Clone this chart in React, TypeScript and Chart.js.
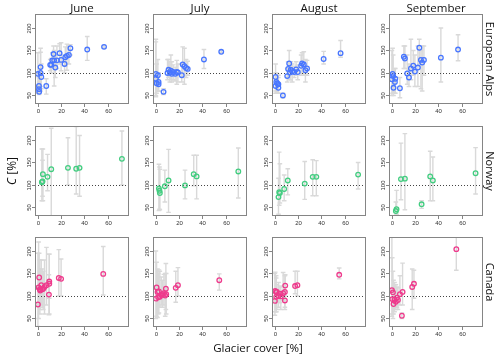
import React, { useEffect, useRef } from "react";
import { Chart, registerables } from "chart.js";
Chart.register(...registerables);

// ---- labels / ticks ----
const months = ["June", "July", "August", "September"];
const regions = ["European Alps", "Norway", "Canada"];
const regionColors = ["#4876FF", "#43CD80", "#EE3A8C"];
const xTicks = [0, 20, 40, 60];
const yTicks = [50, 100, 150, 200];
const refValue = 100;
const xRange = [-2.5, 78.5];
const yRange = [31, 231];

// ---- data: [glacier cover %, C %, lower, upper] ----
type Pt = [number, number, number, number];

const alpsJune: Pt[] = [
  [0, 98, 55, 145], [0.9, 71, 56, 100], [0.9, 64, 55, 90], [1.1, 58, 52, 80],
  [2.3, 113, 70, 155], [2.3, 100, 60, 146], [2.9, 91, 65, 120], [7.2, 71, 53, 87],
  [10.6, 118, 105, 130], [11.5, 118, 100, 132], [12.4, 128, 110, 145], [13.5, 142, 115, 160],
  [14, 128, 71, 150], [15, 112, 90, 140], [16.4, 128, 110, 160], [18.7, 144, 120, 165],
  [20, 129, 105, 167], [23, 120, 100, 140], [23.6, 135, 115, 158], [25, 138, 106, 164],
  [26.7, 140, 120, 160], [28, 155, 140, 163], [42.5, 152, 128, 181], [57, 158, 155, 161],
];
const alpsJuly: Pt[] = [
  [0, 98, 50, 175], [0, 87, 47, 169], [0.6, 77, 55, 120], [1.7, 95, 60, 130],
  [2.3, 80, 60, 100], [2.3, 75, 60, 100], [6.6, 58, 52, 65], [10, 100, 85, 130],
  [10.9, 107, 90, 130], [12, 101, 80, 125], [12.9, 105, 85, 140], [13.7, 98, 80, 125],
  [14.9, 102, 85, 118], [16.6, 98, 82, 113], [18, 102, 75, 128], [19, 101, 80, 120],
  [22.3, 95, 80, 120], [23.1, 119, 90, 158], [24.6, 115, 75, 155], [26, 111, 90, 130],
  [27.4, 109, 95, 126], [41.4, 130, 110, 152], [56.3, 147, 145, 150],
];
const alpsAugust: Pt[] = [
  [0.6, 91, 60, 120], [0.6, 71, 55, 100], [1.2, 80, 55, 100], [2, 77, 55, 98],
  [3, 75, 55, 95], [3, 67, 55, 90], [6.9, 50, 45, 55], [10.6, 93, 80, 110],
  [11.4, 109, 90, 125], [12.3, 121, 105, 150], [13, 101, 85, 125], [13.7, 107, 85, 125],
  [15, 104, 80, 120], [16.6, 102, 90, 115], [18.3, 108, 95, 125], [19.7, 102, 85, 118],
  [22.6, 116, 95, 140], [23.4, 121, 100, 145], [24.9, 119, 95, 147], [26.3, 106, 80, 130],
  [27.7, 110, 95, 128], [42, 131, 120, 148], [56.6, 144, 135, 172],
];
const alpsSeptember: Pt[] = [
  [0.6, 98, 55, 155], [0, 86, 50, 150], [1.1, 93, 55, 140], [1.4, 67, 50, 95],
  [2.6, 80, 55, 110], [2.9, 87, 55, 110], [6.9, 66, 45, 90], [10.3, 136, 110, 160],
  [11.2, 132, 110, 160], [13.2, 99, 75, 140], [14.7, 90, 70, 120], [16.4, 110, 85, 175],
  [18.4, 116, 95, 150], [19.8, 103, 70, 140], [22.4, 112, 70, 160], [23.6, 156, 120, 175],
  [25, 129, 65, 150], [26.1, 123, 60, 160], [27.6, 129, 95, 160], [42.2, 134, 80, 200],
  [57, 152, 127, 185],
];

const norwayJune: Pt[] = [
  [3.4, 106, 65, 180], [4, 108, 75, 155], [4.3, 124, 65, 180], [8.3, 118, 87, 168],
  [11.5, 135, 28, 226], [25.9, 138, 100, 205], [33, 136, 80, 230], [35.9, 138, 75, 210],
  [72.4, 158, 100, 220],
];
const norwayJuly: Pt[] = [
  [2.6, 92, 43, 146], [3.1, 87, 46, 140], [3.4, 82, 45, 135], [7.7, 97, 62, 133],
  [10.9, 110, 39, 179], [25.1, 99, 69, 133], [32.6, 124, 98, 166], [35.1, 119, 69, 166],
  [71, 130, 71, 182],
];
const norwayAugust: Pt[] = [
  [3.1, 73, 35, 115], [3.7, 84, 55, 173], [4.3, 82, 60, 147], [8, 91, 65, 122],
  [11.1, 110, 78, 136], [25.7, 103, 68, 152], [32.6, 118, 76, 156], [35.7, 118, 76, 154],
  [71.7, 123, 91, 150],
];
const norwaySeptember: Pt[] = [
  [3.4, 42, 30, 62], [4, 46, 35, 88], [7.8, 113, 67, 193], [11.2, 114, 45, 214],
  [25.6, 57, 48, 65], [33, 119, 65, 175], [35.3, 110, 65, 162], [72.1, 126, 80, 183],
];

const canadaJune: Pt[] = [
  [0, 81, 32, 195], [0.6, 119, 50, 220], [1.1, 141, 80, 195], [1.7, 115, 60, 180],
  [2, 112, 70, 160], [2.9, 124, 80, 180], [3.7, 115, 75, 160], [4.6, 116, 70, 155],
  [5.7, 120, 60, 180], [7.4, 124, 80, 208], [9.5, 103, 58, 147], [9.8, 127, 95, 193],
  [9.8, 132, 60, 193], [18, 140, 100, 203], [20, 138, 100, 182], [56.3, 149, 102, 210],
];
const canadaJuly: Pt[] = [
  [0, 94, 50, 200], [0.6, 119, 55, 175], [1.4, 109, 52, 160], [2, 97, 60, 150],
  [2.6, 110, 62, 158], [3.4, 98, 75, 155], [4.6, 102, 80, 142], [5.7, 104, 75, 135],
  [6.9, 106, 80, 148], [8, 101, 55, 150], [8.6, 116, 70, 172], [8.9, 104, 60, 150],
  [17.1, 118, 86, 155], [19, 124, 100, 163], [54.6, 135, 113, 149],
];
const canadaAugust: Pt[] = [
  [0, 89, 57, 150], [0.3, 111, 65, 153], [1.1, 109, 65, 140], [1.1, 98, 65, 145],
  [1.7, 109, 70, 125], [3.1, 100, 75, 130], [4.3, 105, 85, 120], [5.1, 99, 70, 122],
  [7.1, 106, 90, 152], [8.6, 109, 75, 145], [8.6, 90, 70, 110], [8.9, 123, 100, 147],
  [17.4, 122, 105, 155], [19.4, 124, 100, 155], [55.4, 147, 138, 162],
];
const canadaSeptember: Pt[] = [
  [0, 113, 55, 240], [0.3, 93, 60, 185], [0.9, 108, 50, 155], [1.4, 82, 60, 135],
  [2.3, 92, 65, 130], [3.4, 87, 70, 125], [4.3, 96, 75, 120], [5.2, 91, 70, 118],
  [6.9, 104, 80, 145], [8.6, 56, 50, 62], [9.2, 109, 80, 173], [17.5, 120, 70, 160],
  [19, 127, 95, 157], [55.5, 204, 157, 240],
];

const panelData: Pt[][][] = [
  [alpsJune, alpsJuly, alpsAugust, alpsSeptember],
  [norwayJune, norwayJuly, norwayAugust, norwaySeptember],
  [canadaJune, canadaJuly, canadaAugust, canadaSeptember],
];

// ---- layout ----
const BOX_LEFTS = [35, 153, 272, 389];
const BOX_TOPS = [14, 126, 237];
const BOX_W = 94;
const BOX_H = 90;
const PAD = { left: 30, top: 4, right: 6, bottom: 20 };
const FONT = "'Open Sans', 'DejaVu Sans', sans-serif";

const decorPlugin = {
  id: "panelDecor",
  beforeDatasetsDraw(chart: any) {
    const { ctx, chartArea: a, scales } = chart;
    const xs = scales.x, ys = scales.y;
    ctx.save();
    ctx.beginPath();
    ctx.rect(a.left, a.top, a.right - a.left, a.bottom - a.top);
    ctx.clip();
    ctx.strokeStyle = "#d9d9d9";
    ctx.lineWidth = 1.4;
    for (const p of chart.data.datasets[0].data) {
      const px = xs.getPixelForValue(p.x);
      const y1 = ys.getPixelForValue(p.lo);
      const y2 = ys.getPixelForValue(p.hi);
      ctx.beginPath();
      ctx.moveTo(px, y1); ctx.lineTo(px, y2);
      ctx.moveTo(px - 2.3, y1); ctx.lineTo(px + 2.3, y1);
      ctx.moveTo(px - 2.3, y2); ctx.lineTo(px + 2.3, y2);
      ctx.stroke();
    }
    const ry = Math.round(ys.getPixelForValue(refValue)) + 0.5;
    ctx.setLineDash([1, 2]);
    ctx.strokeStyle = "#444";
    ctx.lineWidth = 1;
    ctx.beginPath();
    ctx.moveTo(a.left, ry); ctx.lineTo(a.right, ry);
    ctx.stroke();
    ctx.restore();
  },
  afterDatasetsDraw(chart: any) {
    const { ctx, chartArea: a, scales } = chart;
    const xs = scales.x, ys = scales.y;
    ctx.save();
    ctx.strokeStyle = "#858585";
    ctx.lineWidth = 1;
    ctx.strokeRect(a.left + 0.5, a.top + 0.5, a.right - a.left - 1, a.bottom - a.top - 1);
    ctx.fillStyle = "#333";
    ctx.font = "6px 'Liberation Sans', Arial, sans-serif";
    // x ticks
    ctx.textAlign = "center";
    ctx.textBaseline = "middle";
    for (const v of xTicks) {
      const px = Math.round(xs.getPixelForValue(v)) + 0.5;
      ctx.beginPath();
      ctx.moveTo(px, a.bottom); ctx.lineTo(px, a.bottom + 3);
      ctx.stroke();
      ctx.fillText(String(v), px, a.bottom + 7.5);
    }
    // y ticks
    for (const v of yTicks) {
      const py = Math.round(ys.getPixelForValue(v)) + 0.5;
      ctx.beginPath();
      ctx.moveTo(a.left - 3, py); ctx.lineTo(a.left, py);
      ctx.stroke();
      ctx.save();
      ctx.translate(a.left - 6, py);
      ctx.rotate(-Math.PI / 2);
      ctx.fillText(String(v), 0, 0);
      ctx.restore();
    }
    ctx.restore();
  },
};

function Panel({ pts, color, left, top }: { pts: Pt[]; color: string; left: number; top: number }) {
  const ref = useRef<HTMLCanvasElement | null>(null);
  useEffect(() => {
    const canvas = ref.current!;
    const chart = new Chart(canvas, {
      type: "scatter",
      data: {
        datasets: [
          {
            data: pts.map(([x, y, lo, hi]) => ({ x, y, lo, hi })) as any,
            pointBorderColor: color,
            pointBackgroundColor: "rgba(0,0,0,0)",
            pointBorderWidth: 1.3,
            pointRadius: 2.3,
            pointHoverRadius: 2.3,
          },
        ],
      },
      options: {
        responsive: false,
        animation: false,
        devicePixelRatio: 1,
        events: [],
        layout: { padding: PAD },
        scales: {
          x: { type: "linear", min: xRange[0], max: xRange[1], display: false },
          y: { type: "linear", min: yRange[0], max: yRange[1], display: false },
        },
        plugins: { legend: { display: false }, tooltip: { enabled: false } },
      },
      plugins: [decorPlugin],
    });
    return () => chart.destroy();
  }, [pts, color]);
  const w = BOX_W + PAD.left + PAD.right;
  const h = BOX_H + PAD.top + PAD.bottom;
  return (
    <canvas
      ref={ref}
      width={w}
      height={h}
      style={{ position: "absolute", left: left - PAD.left, top: top - PAD.top, width: w, height: h }}
    />
  );
}

export default function App() {
  return (
    <div
      style={{
        position: "fixed",
        left: 0,
        top: 0,
        width: 500,
        height: 357,
        background: "#fff",
        overflow: "hidden",
        fontFamily: FONT,
        color: "#111",
      }}
    >
      {panelData.map((row, r) =>
        row.map((pts, c) => (
          <Panel key={`${r}-${c}`} pts={pts} color={regionColors[r]} left={BOX_LEFTS[c]} top={BOX_TOPS[r]} />
        ))
      )}
      {months.map((m, c) => (
        <div
          key={m}
          style={{
            position: "absolute",
            left: BOX_LEFTS[c],
            top: 1,
            width: BOX_W,
            textAlign: "center",
            fontSize: 11.5,
            lineHeight: "14px",
          }}
        >
          {m}
        </div>
      ))}
      {regions.map((name, r) => (
        <div
          key={name}
          style={{
            position: "absolute",
            left: 490,
            top: BOX_TOPS[r] + BOX_H / 2,
            transform: "translate(-50%, -50%) rotate(90deg)",
            whiteSpace: "nowrap",
            fontSize: 11,
            lineHeight: "13px",
          }}
        >
          {name}
        </div>
      ))}
      <div
        style={{
          position: "absolute",
          left: 12,
          top: 171,
          transform: "translate(-50%, -50%) rotate(-90deg)",
          whiteSpace: "nowrap",
          fontSize: 12,
          lineHeight: "14px",
        }}
      >
        <i>C</i> [%]
      </div>
      <div
        style={{
          position: "absolute",
          left: 258,
          top: 347,
          transform: "translate(-50%, -50%)",
          whiteSpace: "nowrap",
          fontSize: 11.5,
          lineHeight: "13px",
        }}
      >
        Glacier cover [%]
      </div>
    </div>
  );
}
